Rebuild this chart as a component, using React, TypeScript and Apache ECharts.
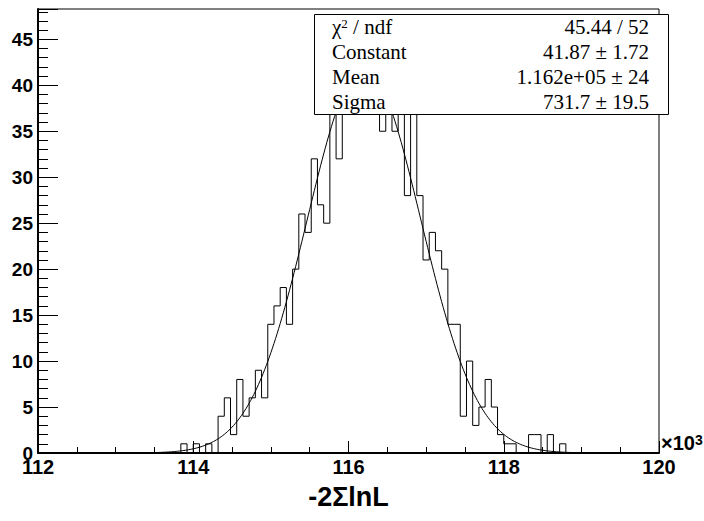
import React, { useEffect, useRef } from 'react';
import * as echarts from 'echarts';

// Histogram definition (x in units of 10^3)
const histLow = 112;
const histHigh = 120;
const binWidth = 0.08;
// 100 bins, 112.00 .. 120.00
const binCounts = [
  0, 0, 0, 0, 0, 0, 0, 0, 0, 0,
  0, 0, 0, 0, 0, 0, 0, 0, 0, 0,
  0, 0, 0, 1, 0, 1, 0, 1, 0, 4,
  6, 2, 8, 4, 6, 9, 6, 14, 16, 18,
  14, 20, 26, 24, 32, 27, 25, 37, 32, 38,
  40, 46, 39, 42, 38, 35, 38, 35, 37, 28,
  38, 28, 21, 24, 22, 20, 14, 14, 4, 10,
  3, 5, 8, 5, 2, 1, 1, 0, 0, 2,
  2, 0, 2, 0, 1, 0, 0, 0, 0, 0,
  0, 0, 0, 0, 0, 0, 0, 0, 0, 0,
];

// Gaussian fit parameters (from the stats box)
const fitConstant = 41.87;
const fitMean = 116.2; // 1.162e+05
const fitSigma = 0.7317; // 731.7

// Axis settings
const xRange = [112, 120];
const xMajorStep = 2;
const yRange = [0, 48.3];
const yMajorStep = 5;
const yMinorStep = 1;

// Stats box
const statNames = ['{a|χ}{s|2}{a| / ndf}', 'Constant', 'Mean', 'Sigma'];
const statValues = ['45.44 / 52', '41.87 ± 1.72', '1.162e+05 ± 24', '731.7 ± 19.5'];

const SANS = 'Liberation Sans';
const SERIF = 'Liberation Serif';

export default function App() {
  const ref = useRef<HTMLDivElement>(null);
  useEffect(() => {
    const chart = echarts.init(ref.current!, undefined, { renderer: 'svg' });

    const histData: number[][] = binCounts.map((c, i) => [
      Number((histLow + i * binWidth).toFixed(4)),
      c,
    ]);
    histData.push([histHigh, binCounts[binCounts.length - 1]]);

    const fitData: number[][] = [];
    const nFit = 400;
    for (let i = 0; i <= nFit; i++) {
      const x = histLow + ((histHigh - histLow) * i) / nFit;
      const z = (x - fitMean) / fitSigma;
      fitData.push([x, fitConstant * Math.exp(-0.5 * z * z)]);
    }

    const boxX = 314.5;
    const boxY = 14.5;
    const boxW = 354;
    const boxH = 100;
    const rowH = boxH / statNames.length;

    const graphics: any[] = [
      {
        type: 'rect',
        z: 100,
        shape: { x: boxX, y: boxY, width: boxW, height: boxH },
        style: { fill: '#fff', stroke: '#000', lineWidth: 1 },
      },
    ];
    statNames.forEach((name, i) => {
      const cy = boxY + rowH * (i + 0.5);
      graphics.push({
        type: 'text',
        z: 101,
        x: 332,
        y: cy,
        style: {
          text: name,
          fontFamily: SERIF,
          fontSize: 21,
          fill: '#000',
          align: 'left',
          verticalAlign: 'middle',
          textAlign: 'left',
          textVerticalAlign: 'middle',
          rich: {
            a: { fontFamily: SERIF, fontSize: 21, fill: '#000' },
            s: { fontFamily: SERIF, fontSize: 13, fill: '#000', verticalAlign: 'top' },
          },
        },
      });
      graphics.push({
        type: 'text',
        z: 101,
        x: 649,
        y: cy,
        style: {
          text: statValues[i],
          fontFamily: SERIF,
          fontSize: 21,
          fill: '#000',
          align: 'right',
          verticalAlign: 'middle',
          textAlign: 'right',
          textVerticalAlign: 'middle',
        },
      });
    });
    graphics.push({
      type: 'text',
      z: 101,
      x: 661,
      y: 453,
      style: {
        text: '{a|×10}{s|3}',
        fontFamily: SANS,
        fontWeight: 'bold',
        fontSize: 20,
        fill: '#000',
        align: 'left',
        verticalAlign: 'bottom',
        textAlign: 'left',
        textVerticalAlign: 'bottom',
        rich: {
          a: { fontFamily: SANS, fontWeight: 'bold', fontSize: 20, fill: '#000' },
          s: { fontFamily: SANS, fontWeight: 'bold', fontSize: 14, fill: '#000', verticalAlign: 'top' },
        },
      },
    });

    const labelStyle = {
      fontFamily: SANS,
      fontWeight: 'bold' as const,
      fontSize: 19,
      color: '#000',
    };

    chart.setOption({
      animation: false,
      backgroundColor: '#fff',
      grid: {
        left: 38,
        right: 45,
        top: 9,
        bottom: 68,
        show: true,
        borderColor: '#000',
        borderWidth: 1,
        backgroundColor: 'transparent',
      },
      xAxis: {
        type: 'value',
        min: xRange[0],
        max: xRange[1],
        interval: xMajorStep,
        name: '-2ΣlnL',
        nameLocation: 'middle',
        nameGap: 30,
        nameTextStyle: {
          fontFamily: SANS,
          fontWeight: 'bold',
          fontSize: 27,
          color: '#000',
        },
        axisLine: { show: true, onZero: false, lineStyle: { color: '#000', width: 2 } },
        axisTick: { show: true, inside: true, length: 12, lineStyle: { color: '#000', width: 1 } },
        minorTick: { show: true, splitNumber: 4, length: 6, lineStyle: { color: '#000', width: 1 } },
        axisLabel: {
          ...labelStyle,
          fontSize: 20,
          margin: 4,
          formatter: (v: number) => String(v),
        },
        splitLine: { show: false },
      },
      yAxis: [
        {
          type: 'value',
          min: yRange[0],
          max: yRange[1],
          interval: yMajorStep,
          position: 'left',
          axisLine: { show: true, onZero: false, lineStyle: { color: '#000', width: 2 } },
          axisTick: { show: true, inside: true, length: 20, lineStyle: { color: '#000', width: 1 } },
          axisLabel: {
            ...labelStyle,
            margin: 5,
            showMaxLabel: true,
            formatter: (v: number) => (Math.abs(v % yMajorStep) < 1e-9 ? String(v) : ''),
          },
          splitLine: { show: false },
        },
        {
          type: 'value',
          min: yRange[0],
          max: yRange[1],
          interval: yMinorStep,
          position: 'left',
          offset: 0,
          axisLine: { show: false },
          axisTick: { show: true, inside: true, length: 10, lineStyle: { color: '#000', width: 1 } },
          axisLabel: { show: false },
          splitLine: { show: false },
        },
      ],
      series: [
        {
          type: 'line',
          data: histData,
          step: 'end',
          showSymbol: false,
          symbol: 'none',
          lineStyle: { color: '#000', width: 1 },
          silent: true,
          z: 3,
        },
        {
          type: 'line',
          data: fitData,
          showSymbol: false,
          symbol: 'none',
          lineStyle: { color: '#000', width: 1 },
          silent: true,
          z: 4,
        },
      ],
      graphic: graphics,
    });

    return () => chart.dispose();
  }, []);

  return (
    <div
      ref={ref}
      style={{ position: 'fixed', left: 0, top: 0, width: 704, height: 521, background: '#fff' }}
    />
  );
}
